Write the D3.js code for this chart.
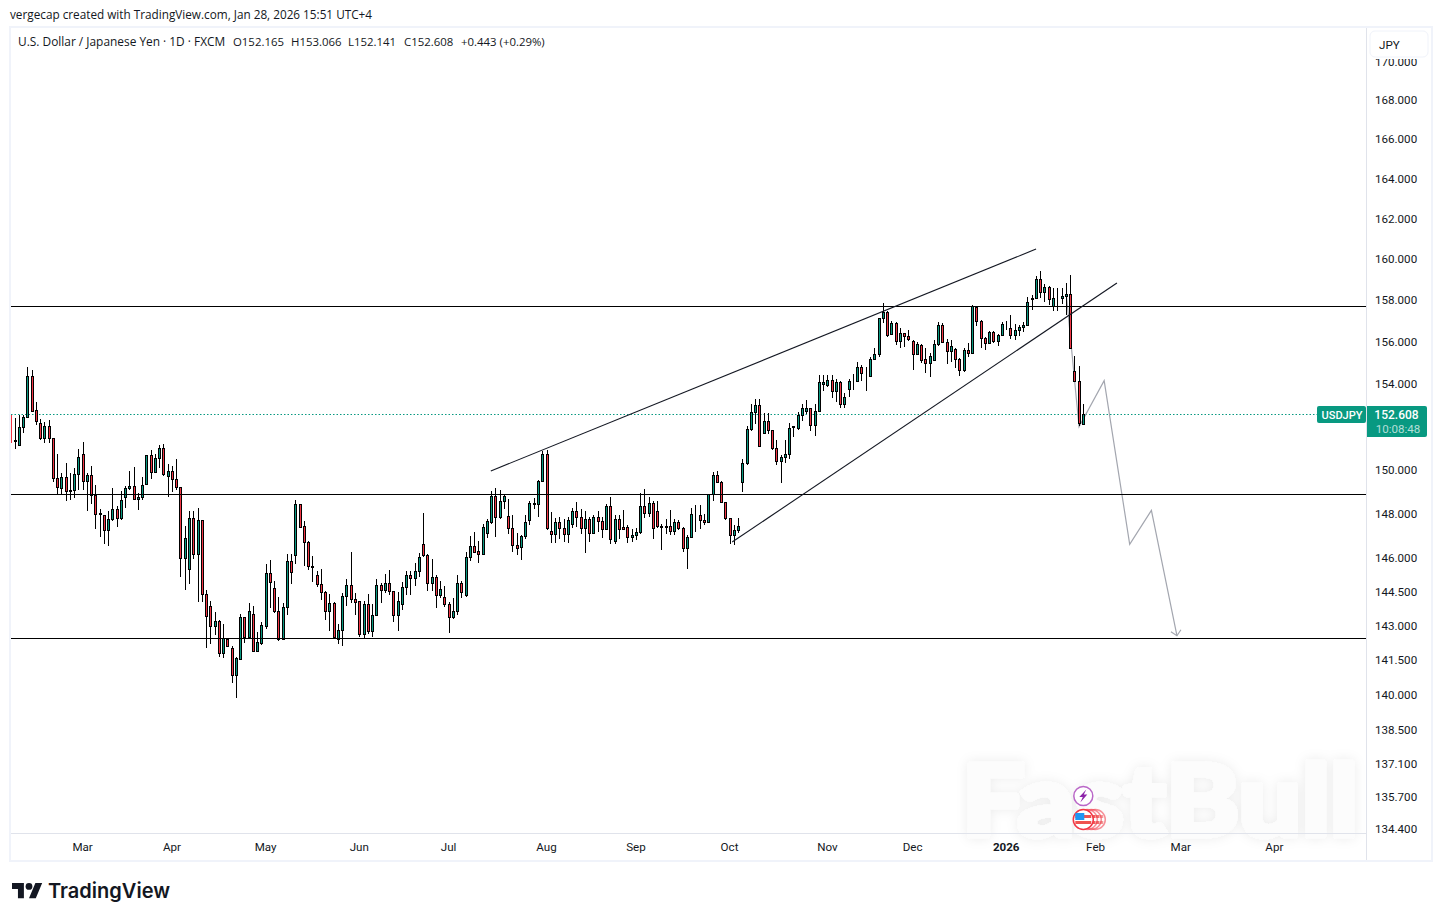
<!DOCTYPE html>
<html>
<head>
<meta charset="utf-8">
<script src="https://cdn.jsdelivr.net/npm/d3@7"></script>
<style>
  body { margin: 0; background: #fff; }
  svg { display: block; }
  text { font-family: Roboto, sans-serif; fill: #131722; }
</style>
</head>
<body>
<svg id="chart" width="1442" height="921"></svg>
<script>
// daily bars, first one is cut by the left edge of the pane
const opens = [152.63,
  151.42,151.19,152.00,152.46,154.40,152.80,152.19,151.49,152.05,151.49,
  149.65,149.19,149.69,149.10,149.10,149.83,150.74,149.51,149.78,148.87,
  148.06,147.96,147.28,147.78,148.23,147.82,148.77,149.18,149.28,148.69,
  148.78,149.37,150.70,149.92,150.56,151.02,149.74,149.97,149.60,149.24,
  146.01,145.53,147.82,146.22,147.73,144.43,143.90,143.02,143.23,141.83,
  142.44,142.04,140.88,141.58,143.40,142.55,143.54,141.93,142.28,143.03,
  145.35,144.69,143.67,142.43,143.85,145.88,146.15,148.46,147.45,146.73,
  145.68,145.26,144.87,144.51,143.67,144.03,142.43,142.83,144.33,144.82,
  144.20,144.11,142.65,143.98,142.78,143.49,144.82,144.60,144.91,144.56,
  143.49,143.98,144.73,145.26,145.13,145.44,146.64,146.15,144.91,145.18,
  144.37,144.29,143.98,143.40,143.67,144.91,144.37,146.06,146.55,146.33,
  146.22,147.14,147.64,148.83,147.87,148.60,147.91,147.36,146.59,146.51,
  147.00,147.73,148.45,148.46,149.51,150.75,147.23,147.09,147.64,147.36,
  147.09,147.55,148.14,147.87,147.36,147.78,147.17,147.87,147.68,147.32,
  148.37,146.77,147.78,147.41,147.41,146.95,147.04,147.18,148.37,148.05,
  148.51,148.14,147.46,147.46,147.46,147.23,147.64,147.36,146.46,146.95,
  148.03,147.96,147.73,147.64,148.92,149.79,149.47,148.55,147.82,147.04,
  147.27,149.46,150.34,151.91,152.70,153.02,151.73,152.28,151.87,151.03,
  150.43,150.62,150.75,152.03,151.96,152.56,152.75,152.88,152.10,152.75,
  154.02,153.97,154.21,153.68,154.11,153.07,153.78,154.18,154.16,154.83,
  154.56,154.40,155.21,155.45,157.17,157.45,156.40,156.93,156.07,156.45,
  156.31,156.06,155.43,155.88,155.19,155.03,155.18,155.92,156.83,156.01,
  155.58,155.67,155.19,154.67,155.63,155.48,157.70,157.02,156.20,155.96,
  156.49,156.06,156.35,156.90,156.69,156.35,156.59,156.73,156.83,158.08,
  158.13,159.05,158.42,158.66,157.75,158.15,158.13,158.23,158.33,154.62,
  154.16,152.165];
const highs = [152.89,
  152.43,152.58,152.58,154.82,154.69,153.18,152.38,152.24,152.35,151.49,
  150.76,149.88,150.33,149.88,150.10,150.99,151.30,149.88,150.20,149.34,
  148.23,147.96,148.14,149.19,148.38,149.05,149.30,149.97,150.15,148.96,
  149.71,150.71,150.92,150.74,151.18,151.21,150.29,150.18,150.51,149.24,
  147.46,148.14,148.14,148.28,147.73,144.60,144.12,143.63,143.28,143.10,
  142.47,142.13,141.65,143.55,143.40,144.03,143.89,142.74,143.18,145.75,
  145.93,145.00,144.29,144.03,146.19,146.19,148.64,148.46,147.70,146.77,
  146.11,145.44,145.53,144.56,144.42,144.07,143.09,144.47,145.09,146.28,
  144.47,144.11,144.11,144.42,144.00,145.09,144.91,145.31,145.49,144.56,
  144.51,144.95,145.44,145.44,145.80,146.24,148.05,146.19,145.97,145.26,
  145.00,144.78,144.07,144.25,145.26,145.00,146.28,147.00,147.18,146.77,
  147.55,147.78,149.05,149.19,149.10,148.92,148.69,147.96,147.14,147.04,
  147.96,148.60,148.73,149.56,150.88,150.93,148.10,147.82,147.87,147.78,
  147.87,148.28,148.55,148.23,148.14,147.87,147.96,148.14,147.87,148.46,
  148.78,147.96,147.96,148.19,147.50,147.32,147.36,148.96,149.15,148.78,
  148.60,148.60,147.55,147.78,148.19,147.78,147.73,147.41,147.04,148.28,
  148.41,148.41,148.00,148.92,149.92,149.97,149.51,148.55,147.82,147.50,
  147.82,150.52,152.05,153.07,153.30,153.30,152.65,152.65,151.87,151.40,
  150.71,151.40,152.19,152.07,152.70,153.07,153.25,152.88,153.07,154.45,
  154.45,154.46,154.45,154.26,154.16,153.59,154.26,154.49,155.07,154.92,
  154.83,155.31,155.73,157.17,157.88,157.50,157.02,156.97,156.69,156.45,
  156.59,156.12,156.01,155.92,155.72,155.48,156.11,156.98,156.93,156.14,
  156.11,155.72,155.24,155.72,155.96,157.80,157.75,157.07,156.25,156.54,
  156.54,156.40,156.98,157.02,157.31,156.88,156.83,156.98,158.18,158.28,
  159.19,159.43,158.81,158.71,158.61,158.61,158.61,158.86,159.24,155.34,
  154.86,153.066];
const lows = [151.28,
  150.97,151.19,151.72,152.43,152.74,152.08,151.38,151.28,151.28,149.45,
  148.92,148.92,148.58,148.66,148.75,149.12,149.12,148.13,148.45,147.35,
  146.99,146.67,146.58,147.69,147.44,147.72,148.26,149.12,148.63,148.20,
  148.63,149.37,149.59,149.86,150.09,149.74,148.77,149.03,149.12,145.20,
  144.59,144.85,146.00,144.06,144.06,142.07,142.25,142.64,141.68,141.64,
  142.13,140.52,139.91,141.52,142.28,142.55,141.93,141.93,142.19,142.90,
  143.81,143.57,142.37,142.43,143.48,144.85,145.74,147.39,145.65,145.47,
  144.94,144.72,144.14,143.30,142.81,142.46,142.25,142.15,143.88,144.03,
  143.48,142.55,142.43,142.65,142.55,143.49,144.01,144.47,144.36,143.21,
  142.81,143.70,144.40,144.36,144.76,145.18,146.06,144.56,144.56,143.79,
  144.23,143.85,142.72,143.34,143.48,144.23,144.27,145.87,146.24,145.80,
  146.19,146.91,147.55,146.95,147.78,148.23,147.09,146.31,146.14,145.93,
  146.86,147.53,148.23,147.87,149.51,147.27,146.68,146.68,146.86,146.73,
  146.68,147.39,147.41,147.09,146.27,146.73,147.09,147.18,146.91,147.32,
  146.64,146.64,146.86,147.32,146.71,146.73,146.82,147.09,147.82,147.87,
  146.86,147.36,146.37,147.09,147.04,147.04,147.27,146.28,145.53,146.91,
  147.20,147.32,147.50,147.59,148.60,149.47,148.55,147.74,146.64,146.59,
  147.14,149.03,150.25,151.82,152.14,151.13,151.73,151.68,150.94,150.25,
  149.41,150.34,150.52,151.54,151.87,152.28,152.61,151.82,151.59,152.75,
  153.68,153.87,153.35,153.16,152.88,152.88,153.43,153.73,154.11,154.16,
  153.68,154.35,155.21,155.31,156.93,156.26,156.35,155.88,155.73,155.78,
  156.07,154.69,155.43,155.03,154.56,154.37,155.18,155.82,155.96,154.98,
  155.08,154.76,154.42,154.61,155.29,155.48,156.78,155.72,155.61,155.92,
  155.96,155.82,156.33,156.59,156.16,156.11,156.30,156.49,156.83,157.54,
  158.08,158.13,157.94,157.80,157.51,157.51,157.84,157.33,155.66,154.11,
  152.05,152.141];
const closes = [151.33,
  151.36,152.00,152.47,154.40,152.77,152.29,151.49,152.05,151.49,149.65,
  149.24,149.69,149.05,149.05,149.83,150.61,149.51,149.78,148.87,148.01,
  148.01,147.28,147.78,148.23,147.82,148.65,149.19,149.28,148.68,148.78,
  149.33,150.70,149.92,150.56,151.02,149.83,149.97,149.60,149.24,146.01,
  146.91,147.82,146.22,147.73,144.43,143.45,143.02,143.23,141.83,142.47,
  142.13,140.88,141.61,143.40,142.55,143.67,141.93,142.30,143.05,145.35,
  144.95,143.66,142.43,143.85,145.88,145.40,148.46,147.44,146.73,145.66,
  145.64,144.87,144.51,143.67,144.03,142.55,142.83,144.33,144.82,144.20,
  144.07,142.65,143.98,142.78,143.49,144.82,144.60,144.91,144.56,143.49,
  144.11,144.73,145.26,145.12,145.44,146.06,146.15,144.91,145.18,144.37,
  144.64,143.98,143.40,143.67,144.91,144.51,146.06,146.55,146.31,146.22,
  147.41,147.70,148.83,147.87,148.60,148.83,147.36,146.59,146.49,147.00,
  147.64,148.51,148.51,149.51,150.75,147.36,147.09,147.64,147.36,147.09,
  147.73,148.14,147.87,147.36,147.78,147.14,147.87,147.68,147.32,148.37,
  146.86,147.78,147.32,147.32,146.95,147.04,147.18,148.37,148.05,148.51,
  147.36,147.46,147.41,147.41,147.23,147.64,147.36,146.46,146.95,148.00,
  147.99,147.73,147.64,148.92,149.79,149.47,148.55,147.82,147.04,147.27,
  147.46,150.34,151.91,152.70,153.02,151.13,152.28,151.87,151.03,150.43,
  150.63,150.75,151.96,151.99,152.56,152.88,152.88,152.10,152.75,154.11,
  154.11,154.21,153.68,154.11,153.07,153.40,154.16,154.14,154.83,154.54,
  154.52,155.21,155.45,157.17,157.45,156.35,156.93,156.07,156.45,156.31,
  156.16,155.43,155.92,155.18,155.03,155.34,155.92,156.83,156.01,155.58,
  155.82,155.19,154.67,155.63,155.48,157.75,157.02,156.20,155.96,156.49,
  156.06,156.35,156.88,156.86,156.35,156.59,156.73,156.83,157.94,158.13,
  159.05,158.42,158.66,158.08,158.13,158.11,158.23,158.33,155.75,154.16,
  152.19,152.608];

const priceTicks = [170,168,166,164,162,160,158,156,154,150,148,146,144.5,143,141.5,140,138.5,137.1,135.7,134.4];
const monthBars = [16,37,59,81,102,125,146,168,191,211,233,254,274,296];
const monthLabels = ["Mar","Apr","May","Jun","Jul","Aug","Sep","Oct","Nov","Dec","2026","Feb","Mar","Apr"];

// levels and drawings, as [bar, price]
const levels = [157.75,148.90,142.47];
const wedgeTop = [[111.8,149.97],[239.9,160.52]];
const wedgeBottom = [[168.5,146.74],[258.9,158.86]];
const forecastPath = [[247,158.33],[250,152.02],[255.9,154.18],[261.9,146.64],[267,148.17],[273,142.59]];
const lastPrice = 152.608;

const GREEN = "#089981", RED = "#f23645";

const paneLeft = 11, paneRight = 1366, paneTop = 28, paneBottom = 833;

const svg = d3.select("#chart");

const x = d3.scaleLinear().domain([0,251]).range([15,1083.3]);
const y = d3.scaleLog().domain([134.4,170]).range([828.8,61.8]);

const bars = opens.map(function(o,i){
    return {i: i-1, o: o, h: highs[i], l: lows[i], c: closes[i]};
});

// snap to whole pixels so that bars look the way the chart paints them
const px = function(i){ return Math.floor(x(i)) + 0.5; };
const py = function(p){ return Math.round(y(p)) + 0.5; };

// header text
svg.append("text").attr("x",10).attr("y",19).attr("font-size",11.75)
    .style("font-family","'Open Sans'")
    .text("vergecap created with TradingView.com, Jan 28, 2026 15:51 UTC+4");

// frame
svg.append("rect").attr("x",10).attr("y",27).attr("width",1422).attr("height",834)
    .attr("fill","#fff").attr("stroke","#f0f3fa").attr("stroke-width",2);

const defs = svg.append("defs");
defs.append("clipPath").attr("id","pane").append("rect")
    .attr("x",paneLeft).attr("y",paneTop)
    .attr("width",paneRight-paneLeft).attr("height",paneBottom-paneTop);

const soft = defs.append("filter").attr("id","soft")
    .attr("x","-10%").attr("y","-30%").attr("width","120%").attr("height","160%");
soft.append("feDropShadow").attr("dx",0).attr("dy",0).attr("stdDeviation",6)
    .attr("flood-color","#000").attr("flood-opacity",0.08);

// watermark
svg.append("text").attr("x",962).attr("y",836)
    .attr("font-size",100).attr("font-weight",900)
    .attr("textLength",396).attr("lengthAdjust","spacingAndGlyphs")
    .attr("filter","url(#soft)")
    .style("font-family","Lato").style("fill","#fcfcfc")
    .style("stroke","#fcfcfc").style("stroke-width",5).style("stroke-linejoin","round")
    .text("FastBull");

const pane = svg.append("g").attr("clip-path","url(#pane)");

// last price line
pane.append("line")
    .attr("x1",paneLeft).attr("x2",paneRight)
    .attr("y1",py(lastPrice)).attr("y2",py(lastPrice))
    .attr("stroke",GREEN).attr("stroke-width",1).attr("stroke-dasharray","1.5 2");

const lineOf = d3.line().x(function(d){ return x(d[0]); }).y(function(d){ return y(d[1]); });

// hand drawn forecast sits under the candles
pane.append("path").attr("d",lineOf(forecastPath))
    .attr("fill","none").attr("stroke","#a3a6af").attr("stroke-width",1.2);

const last = forecastPath[forecastPath.length-1];
pane.append("path")
    .attr("d","M"+(x(last[0])-6)+","+(y(last[1])-4)+"L"+x(last[0])+","+y(last[1])+"L"+(x(last[0])+4)+","+(y(last[1])-6))
    .attr("fill","none").attr("stroke","#a3a6af").attr("stroke-width",1.2);

// candles
const candle = pane.selectAll("g.bar").data(bars).join("g").attr("class","bar");

candle.append("line")
    .attr("x1",function(d){ return px(d.i); })
    .attr("x2",function(d){ return px(d.i); })
    .attr("y1",function(d){ return Math.round(y(d.h)); })
    .attr("y2",function(d){ return Math.round(y(d.l)); })
    .attr("stroke",function(d){ return d.i < 0 ? "#9a9a9a" : "#000"; }).attr("stroke-width",1)
    .attr("shape-rendering","crispEdges");

candle.append("rect")
    .attr("x",function(d){ return px(d.i)-1; })
    .attr("width",function(d){ return d.i < 0 ? 2.5 : 2; })
    .attr("y",function(d){ return py(Math.max(d.o,d.c)); })
    .attr("height",function(d){ return Math.max(0,py(Math.min(d.o,d.c))-py(Math.max(d.o,d.c))); })
    .attr("fill",function(d){ return d.c >= d.o ? GREEN : RED; })
    .attr("stroke",function(d){ return d.i < 0 ? "none" : "#000"; }).attr("stroke-width",1)
    .attr("shape-rendering","crispEdges");

// horizontal levels and the wedge
pane.selectAll("line.level").data(levels).join("line").attr("class","level")
    .attr("x1",paneLeft).attr("x2",paneRight)
    .attr("y1",function(d){ return py(d); }).attr("y2",function(d){ return py(d); })
    .attr("stroke","#000").attr("stroke-width",1);

[wedgeTop,wedgeBottom].forEach(function(w){
    pane.append("path").attr("d",lineOf(w))
        .attr("fill","none").attr("stroke","#131722").attr("stroke-width",1.1);
});

// event icons under the last bar
const iconX = x(251);
const icons = svg.append("g");
icons.append("circle").attr("cx",iconX).attr("cy",796).attr("r",9.5)
    .attr("fill","#fff").attr("stroke","#ba68c8").attr("stroke-width",1.5);
icons.append("path")
    .attr("d","M"+(iconX+3)+",789.5L"+(iconX-4)+",797H"+(iconX-0.5)+"L"+(iconX-3)+",802.5L"+(iconX+4)+",794.5H"+(iconX+0.5)+"Z")
    .attr("fill","#8e24aa");
[12,8,4,0].forEach(function(dx){
    const g = icons.append("g").attr("opacity",dx === 0 ? 1 : 0.55);
    g.append("circle").attr("cx",iconX+dx).attr("cy",819.5).attr("r",10)
        .attr("fill","#fff").attr("stroke","#f23645").attr("stroke-width",1.5);
    g.append("rect").attr("x",iconX+dx-8).attr("y",815).attr("width",16).attr("height",3).attr("fill","#ef5350");
    g.append("rect").attr("x",iconX+dx-8).attr("y",821).attr("width",16).attr("height",3).attr("fill","#ef5350");
    if (dx === 0) {
        g.append("rect").attr("x",iconX-8).attr("y",813).attr("width",9).attr("height",7).attr("fill","#2196f3");
    }
});

// axis rules
svg.append("line").attr("x1",paneRight+0.5).attr("x2",paneRight+0.5).attr("y1",paneTop).attr("y2",860)
    .attr("stroke","#e0e3eb");
svg.append("line").attr("x1",paneLeft).attr("x2",paneRight).attr("y1",paneBottom+0.5).attr("y2",paneBottom+0.5)
    .attr("stroke","#e0e3eb");

// price axis
const yAxis = d3.axisRight(y).tickValues(priceTicks).tickSize(0).tickPadding(10)
    .tickFormat(d3.format(".3f"));
const yG = svg.append("g").attr("transform","translate("+(paneRight-1)+",-0.5)").call(yAxis);
yG.select(".domain").remove();
yG.selectAll("text").attr("font-size",11.6).style("font-family","Roboto");

// time axis
const xAxis = d3.axisBottom(x).tickValues(monthBars).tickSize(0).tickPadding(8)
    .tickFormat(function(d,i){ return monthLabels[i]; });
const xG = svg.append("g").attr("transform","translate(-1,"+(paneBottom+2)+")").call(xAxis);
xG.select(".domain").remove();
xG.selectAll("text").attr("font-size",11.6).style("font-family","Roboto")
    .attr("font-weight",function(d,i){ return monthLabels[i] === "2026" ? 700 : 400; });

// currency button covers the top half of the top tick
svg.append("rect").attr("x",1367).attr("y",28).attr("width",64).attr("height",31).attr("fill","#fff");
svg.append("rect").attr("x",1370).attr("y",31).attr("width",58).attr("height",26).attr("rx",5)
    .attr("fill","#fff").attr("stroke","#f0f3fa");
svg.append("text").attr("x",1379).attr("y",49).attr("font-size",11.6).text("JPY");

// legend
const legend = [
    ["U.S. Dollar / Japanese Yen \u00b7 1D \u00b7 FXCM",18,11.9],
    ["O152.165",233,11.4],["H153.066",291,11.4],["L152.141",348,11.4],["C152.608",404,11.4],["+0.443 (+0.29%)",461,11.4]
];
svg.append("g").selectAll("text").data(legend).join("text")
    .attr("x",function(d){ return d[1]; }).attr("y",46)
    .attr("font-size",function(d){ return d[2]; }).style("font-family","'Open Sans'")
    .text(function(d){ return d[0]; });

// last price labels
const labelY = py(lastPrice);
svg.append("rect").attr("x",1317).attr("y",labelY-8.5).attr("width",49).attr("height",17).attr("rx",2).attr("fill",GREEN);
svg.append("path")
    .attr("d","M1367,"+(labelY-8.5)+"H1425a2,2 0 0 1 2,2V"+(labelY+20.5)+"a2,2 0 0 1 -2,2H1367Z")
    .attr("fill",GREEN);
svg.append("text").attr("x",1321.5).attr("y",labelY+4.5)
    .attr("font-size",11.6).attr("font-weight",500).attr("textLength",41).attr("lengthAdjust","spacingAndGlyphs")
    .style("fill","#fff").text("USDJPY");
svg.append("text").attr("x",1396.5).attr("y",labelY+4.5).attr("text-anchor","middle")
    .attr("font-size",12).attr("font-weight",500).style("fill","#fff").text(d3.format(".3f")(lastPrice));
svg.append("text").attr("x",1398).attr("y",labelY+18.5).attr("text-anchor","middle")
    .attr("font-size",11.6).style("fill","#fff").style("fill-opacity",0.7).text("10:08:48");

// TradingView mark
const logo = svg.append("g").attr("transform","translate(12,879.6) scale(0.85)");
logo.append("path").attr("d","M14 22H7V11H0V4h14v18zM28 22h-8l7.5-18h8L28 22z").attr("fill","#131722");
logo.append("circle").attr("cx",20).attr("cy",8).attr("r",4).attr("fill","#131722");
svg.append("text").attr("x",48).attr("y",898).attr("font-size",20.5).attr("font-weight",600)
    .attr("textLength",122).attr("lengthAdjust","spacingAndGlyphs")
    .style("font-family","Inter").text("TradingView");
</script>
</body>
</html>
